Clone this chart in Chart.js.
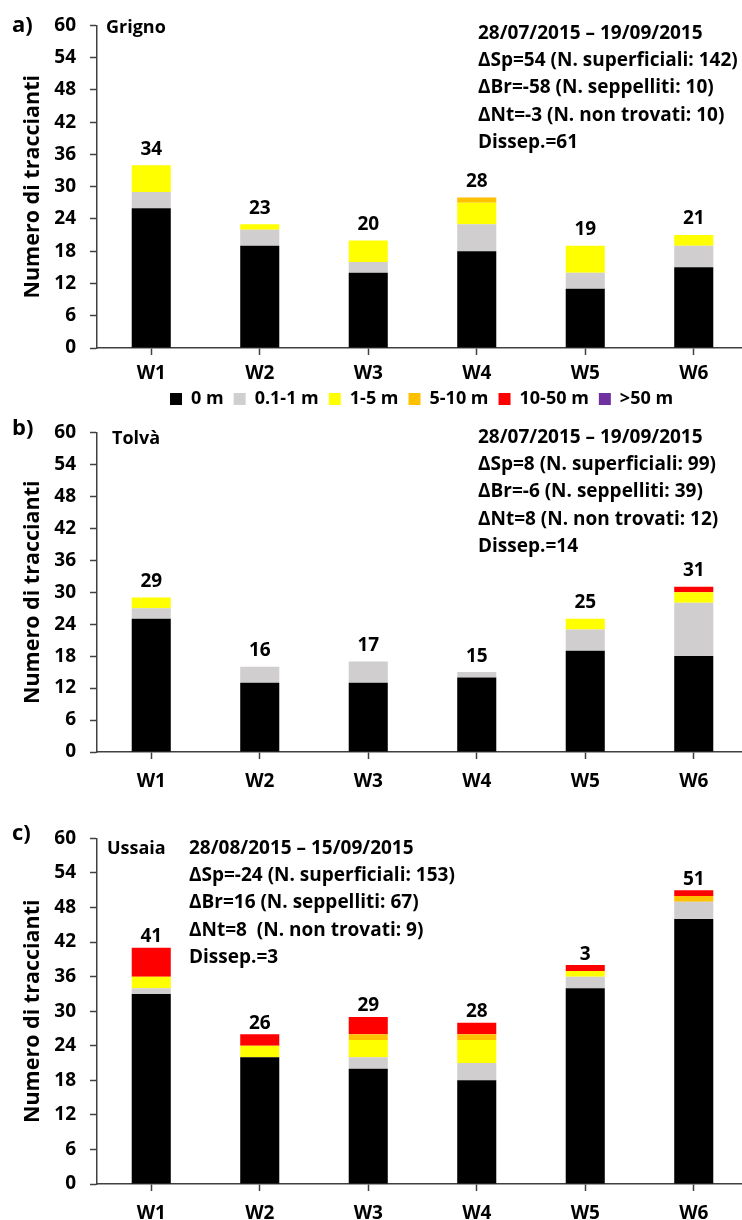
<!DOCTYPE html>
<html>
<head>
<meta charset="utf-8">
<script src="https://cdn.jsdelivr.net/npm/chart.js@4.4.1/dist/chart.umd.min.js"></script>
<style>
    html, body { margin: 0; padding: 0; background: #fff; overflow: hidden; width: 742px; height: 1220px; }
    .panel { position: absolute; left: 0; width: 760px; }
</style>
</head>
<body>
<div class="panel" id="wrapA" style="top:0px;height:420px"><canvas id="chartA"></canvas></div>
<div class="panel" id="wrapB" style="top:407px;height:390px"><canvas id="chartB"></canvas></div>
<div class="panel" id="wrapC" style="top:813px;height:407px"><canvas id="chartC"></canvas></div>
<script>
const weeks = ["W1", "W2", "W3", "W4", "W5", "W6"];
const classes = ["0 m", "0.1-1 m", "1-5 m", "5-10 m", "10-50 m", ">50 m"];
const classColors = ["#000000", "#D0CECE", "#FFFF00", "#FFC000", "#FF0000", "#7030A0"];
const yMin = 0, yMax = 60, yStep = 6;

// a) Grigno
const grigno0m     = [26, 19, 14, 18, 11, 15];
const grigno01_1m  = [3, 3, 2, 5, 3, 4];
const grigno1_5m   = [5, 1, 4, 4, 5, 2];
const grigno5_10m  = [0, 0, 0, 1, 0, 0];
const grigno10_50m = [0, 0, 0, 0, 0, 0];
const grigno50m    = [0, 0, 0, 0, 0, 0];
const grignoLabels = ["34", "23", "20", "28", "19", "21"];
const grignoNotes = [
    "28/07/2015 \u2013 19/09/2015",
    "\u0394Sp=54 (N. superficiali: 142)",
    "\u0394Br=-58 (N. seppelliti: 10)",
    "\u0394Nt=-3 (N. non trovati: 10)",
    "Dissep.=61"
];

// b) Tolvà
const tolva0m     = [25, 13, 13, 14, 19, 18];
const tolva01_1m  = [2, 3, 4, 1, 4, 10];
const tolva1_5m   = [2, 0, 0, 0, 2, 2];
const tolva5_10m  = [0, 0, 0, 0, 0, 0];
const tolva10_50m = [0, 0, 0, 0, 0, 1];
const tolva50m    = [0, 0, 0, 0, 0, 0];
const tolvaLabels = ["29", "16", "17", "15", "25", "31"];
const tolvaNotes = [
    "28/07/2015 \u2013 19/09/2015",
    "\u0394Sp=8 (N. superficiali: 99)",
    "\u0394Br=-6 (N. seppelliti: 39)",
    "\u0394Nt=8 (N. non trovati: 12)",
    "Dissep.=14"
];

// c) Ussaia
const ussaia0m     = [33, 22, 20, 18, 34, 46];
const ussaia01_1m  = [1, 0, 2, 3, 2, 3];
const ussaia1_5m   = [2, 2, 3, 4, 1, 0];
const ussaia5_10m  = [0, 0, 1, 1, 0, 1];
const ussaia10_50m = [5, 2, 3, 2, 1, 1];
const ussaia50m    = [0, 0, 0, 0, 0, 0];
const ussaiaLabels = ["41", "26", "29", "28", "3", "51"];
const ussaiaNotes = [
    "28/08/2015 \u2013 15/09/2015",
    "\u0394Sp=-24 (N. superficiali: 153)",
    "\u0394Br=16 (N. seppelliti: 67)",
    "\u0394Nt=8  (N. non trovati: 9)",
    "Dissep.=3"
];

const FONT = '"Open Sans", "Liberation Sans", sans-serif';
const AXIS = "#404040";

// totals above bars, site name, notes and panel letter
const annotate = {
    id: "annotate",
    afterLayout(chart, args, o) {
        // legend row starts where the reference one does
        const lg = chart.legend;
        if (lg && o.legendX != null && chart.options.plugins.legend.display) {
            const dx = o.legendX - chart.options.plugins.legend.labels.padding - lg.left;
            lg.left += dx;
            lg.right += dx;
        }
    },
    afterDatasetsDraw(chart, args, o) {
        const { ctx, chartArea, scales } = chart;
        const top = chartArea.top;
        ctx.save();
        ctx.fillStyle = "#000";
        ctx.textBaseline = "middle";

        ctx.font = "bold 19px " + FONT;
        ctx.textAlign = "center";
        o.labels.forEach((lab, i) => {
            const sum = chart.data.datasets.reduce((s, d) => s + d.data[i], 0);
            ctx.fillText(lab, scales.x.getPixelForValue(i), scales.y.getPixelForValue(sum) - o.gap);
        });

        ctx.textAlign = "left";
        ctx.font = "bold 22px " + FONT;
        ctx.fillText(o.letter, 12, top + o.letterDy);

        ctx.font = "bold 18px " + FONT;
        ctx.fillText(o.site, o.siteX, top + o.siteDy);

        ctx.font = "bold 19px " + FONT;
        o.notes.forEach((line, k) => {
            ctx.fillText(line, o.notesX, top + o.notesDy + k * 27.3);
        });
        ctx.restore();
    }
};

function buildChart(canvasId, wrapId, series, p) {
    const datasets = series.map((vals, k) => ({
        label: classes[k],
        data: vals,
        backgroundColor: classColors[k],
        borderWidth: 0,
        barPercentage: 0.36,
        categoryPercentage: 1.0
    }));

    const chart = new Chart(document.getElementById(canvasId), {
        type: "bar",
        data: { labels: weeks, datasets: datasets },
        options: {
            responsive: true,
            maintainAspectRatio: false,
            animation: false,
            layout: { padding: { top: 20, right: 12, left: 0, bottom: 0 } },
            plugins: {
                tooltip: { enabled: false },
                legend: {
                    display: p.legend,
                    position: "bottom",
                    align: "start",
                    fullSize: false,
                    labels: {
                        boxWidth: 12,
                        boxHeight: 12,
                        padding: 10,
                        color: "#000",
                        font: { family: FONT, size: 18, weight: "bold" }
                    }
                },
                annotate: p.annotate
            },
            scales: {
                x: {
                    stacked: true,
                    afterFit: (s) => { s.height = p.xHeight; },
                    grid: {
                        display: true,
                        offset: false,
                        drawOnChartArea: false,
                        drawTicks: true,
                        tickLength: 7,
                        tickWidth: 1.5,
                        tickColor: AXIS
                    },
                    border: { display: true, color: AXIS, width: 1.5 },
                    ticks: {
                        padding: p.xPad,
                        color: "#000",
                        font: { family: FONT, size: 19, weight: "bold" }
                    }
                },
                y: {
                    stacked: true,
                    min: yMin,
                    max: yMax,
                    afterFit: (s) => { s.width = 97; },
                    grid: {
                        display: true,
                        drawOnChartArea: false,
                        drawTicks: true,
                        tickLength: 7,
                        tickWidth: 1.5,
                        tickColor: AXIS
                    },
                    border: { display: true, color: AXIS, width: 1.5 },
                    ticks: {
                        stepSize: yStep,
                        padding: 14,
                        color: "#000",
                        font: { family: FONT, size: 19, weight: "bold" }
                    },
                    title: {
                        display: true,
                        text: "Numero di traccianti",
                        color: "#000",
                        padding: { top: 20, bottom: 0 },
                        font: { family: FONT, size: 21.5, weight: "bold" }
                    }
                }
            }
        },
        plugins: [annotate]
    });

    // stretch the panel so the plot bottom sits where the reference has it
    const wrap = document.getElementById(wrapId);
    const dy = p.bottom - (wrap.offsetTop + chart.chartArea.bottom);
    if (Math.abs(dy) > 0.5) {
        wrap.style.height = (wrap.clientHeight + dy) + "px";
        chart.resize();
    }
    return chart;
}

buildChart("chartA", "wrapA",
    [grigno0m, grigno01_1m, grigno1_5m, grigno5_10m, grigno10_50m, grigno50m],
    {
        legend: true, xHeight: 32, xPad: 7, bottom: 348,
        annotate: {
            labels: grignoLabels, gap: 16, letter: "a)", letterDy: 0,
            site: "Grigno", siteX: 106, siteDy: 2,
            notes: grignoNotes, notesX: 478, notesDy: 8, legendX: 170
        }
    });

buildChart("chartB", "wrapB",
    [tolva0m, tolva01_1m, tolva1_5m, tolva5_10m, tolva10_50m, tolva50m],
    {
        legend: false, xHeight: 42, xPad: 11, bottom: 752,
        annotate: {
            labels: tolvaLabels, gap: 16, letter: "b)", letterDy: -4,
            site: "Tolv\u00e0", siteX: 112, siteDy: 6,
            notes: tolvaNotes, notesX: 478, notesDy: 5
        }
    });

buildChart("chartC", "wrapC",
    [ussaia0m, ussaia01_1m, ussaia1_5m, ussaia5_10m, ussaia10_50m, ussaia50m],
    {
        legend: false, xHeight: 36, xPad: 11, bottom: 1184,
        annotate: {
            labels: ussaiaLabels, gap: 11, letter: "c)", letterDy: -5,
            site: "Ussaia", siteX: 107, siteDy: 10,
            notes: ussaiaNotes, notesX: 189, notesDy: 10
        }
    });
</script>
</body>
</html>
